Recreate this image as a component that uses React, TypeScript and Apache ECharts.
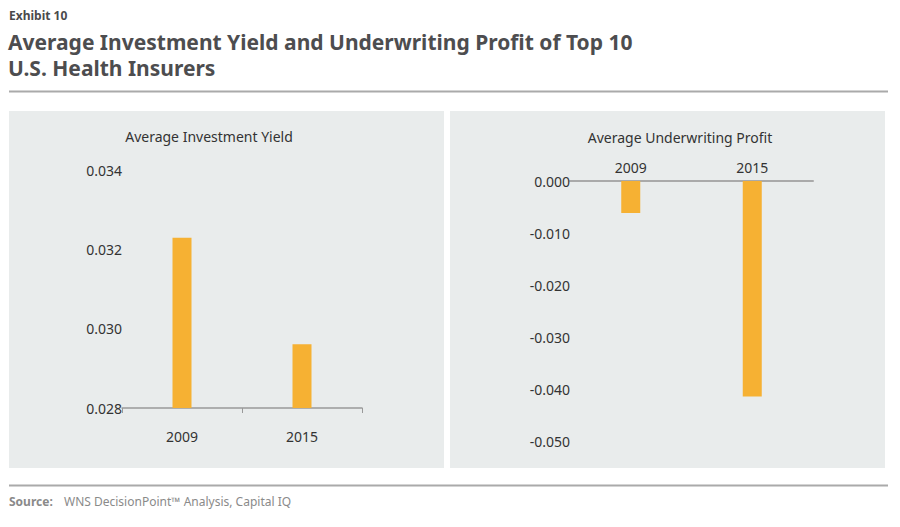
import React, { useEffect, useRef } from "react";
import * as echarts from "echarts";

const years = ["2009", "2015"];
const investmentYield = [0.03229, 0.02961];
const underwritingProfit = [-0.00615, -0.04146];
const yieldTitle = "Average Investment Yield";
const profitTitle = "Average Underwriting Profit";

const FONT = '"Noto Sans", sans-serif';
const BAR = "#f6b133";
const PANEL = "#e9ecec";

export default function App() {
  const ref = useRef<HTMLDivElement>(null);
  useEffect(() => {
    if (!ref.current) return;
    const chart = echarts.init(ref.current, undefined, { renderer: "svg" });
    const fmt = (v: number) => v.toFixed(3);
    chart.setOption({
      animation: false,
      backgroundColor: "#ffffff",
      textStyle: { fontFamily: FONT },
      graphic: [
        { type: "rect", z: -10, shape: { x: 9, y: 111, width: 435, height: 357 }, style: { fill: PANEL } },
        { type: "rect", z: -10, shape: { x: 450, y: 111, width: 435, height: 357 }, style: { fill: PANEL } },
        { type: "line", shape: { x1: 9, y1: 91.5, x2: 888, y2: 91.5 }, style: { stroke: "#aaaaaa", lineWidth: 2 } },
        { type: "line", shape: { x1: 9, y1: 485.5, x2: 888, y2: 485.5 }, style: { stroke: "#aaaaaa", lineWidth: 2 } },
        { type: "text", x: 9, y: 15, style: { text: "Exhibit 10", fill: "#4a4a4c", font: `bold 12px ${FONT}`, verticalAlign: "middle" } },
        { type: "text", x: 8, y: 42, style: { text: "Average Investment Yield and Underwriting Profit of Top 10", fill: "#4d4d4f", font: `bold 21px ${FONT}`, verticalAlign: "middle" } },
        { type: "text", x: 8, y: 68, style: { text: "U.S. Health Insurers", fill: "#4d4d4f", font: `bold 21px ${FONT}`, verticalAlign: "middle" } },
        { type: "text", x: 209, y: 136, style: { text: yieldTitle, fill: "#333333", font: `14px ${FONT}`, align: "center", verticalAlign: "middle" } },
        { type: "text", x: 680, y: 137, style: { text: profitTitle, fill: "#333333", font: `14px ${FONT}`, align: "center", verticalAlign: "middle" } },
        { type: "text", x: 9, y: 501, style: { text: "Source:", fill: "#8a8a8a", font: `bold 12px ${FONT}`, verticalAlign: "middle" } },
        { type: "text", x: 64, y: 501, style: { text: "WNS DecisionPoint\u2122 Analysis, Capital IQ", fill: "#8a8a8a", font: `12px ${FONT}`, verticalAlign: "middle" } },
      ],
      grid: [
        { left: 122, top: 170, width: 240, height: 238 },
        { left: 570, top: 181, width: 243, height: 260 },
      ],
      xAxis: [
        {
          type: "category",
          gridIndex: 0,
          data: years,
          axisLine: { lineStyle: { color: "#999999", width: 1.5 } },
          axisTick: { show: true, length: 5, lineStyle: { color: "#999999" } },
          axisLabel: { color: "#333333", fontSize: 14, margin: 21, fontFamily: FONT },
        },
        {
          type: "category",
          gridIndex: 1,
          position: "top",
          data: years,
          axisLine: { onZero: false, lineStyle: { color: "#aaaaaa", width: 2 } },
          axisTick: { show: false },
          axisLabel: { color: "#333333", fontSize: 14, margin: 7, fontFamily: FONT },
        },
      ],
      yAxis: [
        {
          type: "value",
          gridIndex: 0,
          min: 0.028,
          max: 0.034,
          interval: 0.002,
          axisLine: { show: false },
          axisTick: { show: false },
          splitLine: { show: false },
          axisLabel: { color: "#333333", fontSize: 14, margin: 0, formatter: fmt, fontFamily: FONT },
        },
        {
          type: "value",
          gridIndex: 1,
          min: -0.05,
          max: 0,
          interval: 0.01,
          axisLine: { show: false },
          axisTick: { show: false },
          splitLine: { show: false },
          axisLabel: { color: "#333333", fontSize: 14, margin: 0, formatter: fmt, fontFamily: FONT },
        },
      ],
      series: [
        {
          type: "bar",
          xAxisIndex: 0,
          yAxisIndex: 0,
          data: investmentYield,
          barWidth: 19,
          itemStyle: { color: BAR },
        },
        {
          type: "bar",
          xAxisIndex: 1,
          yAxisIndex: 1,
          data: underwritingProfit,
          barWidth: 19,
          itemStyle: { color: BAR },
        },
      ],
    });
    return () => chart.dispose();
  }, []);
  return (
    <div
      ref={ref}
      style={{ position: "fixed", left: 0, top: 0, width: 900, height: 527 }}
    />
  );
}
